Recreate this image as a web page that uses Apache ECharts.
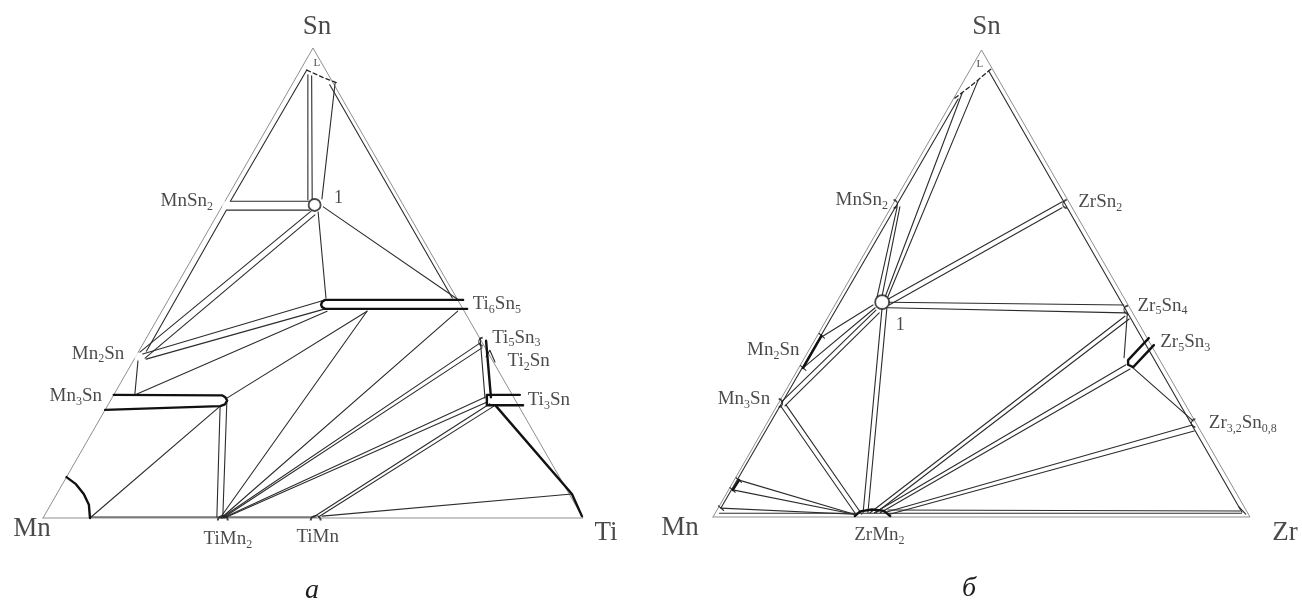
<!DOCTYPE html>
<html>
<head>
<meta charset="utf-8">
<script src="https://cdn.jsdelivr.net/npm/echarts/dist/echarts.min.js"></script>
<style>
  html, body { margin: 0; padding: 0; background: #fff; }
  #chart { width: 1302px; height: 602px; }
</style>
</head>
<body>
<div id="chart"></div>
<script>
// Isothermal sections of the Mn–Sn–Ti (а) and Mn–Sn–Zr (б) systems.
// Every composition is [at.% Sn, at.% Ti] or [at.% Sn, at.% Zr]; the rest is Mn.

// ---------- Mn–Sn–Ti ----------
const tiPhaseNames = ['MnSn2', 'Mn2Sn', 'Mn3Sn', 'Ti6Sn5', 'Ti5Sn3', 'Ti2Sn', 'Ti3Sn', 'TiMn2', 'TiMn'];
const tiPhaseComp  = [[66.6, 0.6], [34.3, 0.5], [25.0, 0], [45.5, 54.5], [37.5, 62.3], [33.2, 67.1], [25.1, 76.0], [0, 33.3], [0, 50.5]];
const tiInvariant  = [66.6, 17.0];
const tiLiquid     = [[95.3, 1.2], [93.8, 4.8], [92.6, 8.1]];
const tiLiquidMark = [96.8, 2.3];
const tiTieLines = [
  [[95.3, 1.2], [67.5, 1.0]],
  [[65.5, 1.2], [35.5, 1.4]],
  [[94.3, 1.9], [67.7, 15.2]],
  [[94.1, 2.7], [67.7, 16.0]],
  [[92.6, 7.8], [67.9, 17.7]],
  [[92.2, 7.0], [46.8, 52.4]],
  [[67.4, 1.0], [67.4, 15.6]],
  [[65.5, 1.3], [65.5, 16.6]],
  [[65.3, 17.0], [35.3, 0.3]],
  [[64.5, 18.1], [34.0, 1.9]],
  [[65.1, 18.4], [46.8, 29.0]],
  [[66.2, 18.8], [46.6, 53.4]],
  [[34.9, 1.0], [46.4, 29.0]],
  [[33.8, 2.2], [44.5, 30.0]],
  [[33.6, 0.8], [26.2, 3.9]],
  [[26.4, 4.2], [44.0, 30.6]],
  [[25.5, 21.3], [44.0, 38.0]],
  [[0, 32.8], [44.0, 38.0]],
  [[0, 33.0], [44.0, 54.8]],
  [[0, 33.0], [37.2, 62.3]],
  [[0, 33.3], [36.2, 63.2]],
  [[0, 33.3], [25.7, 69.0]],
  [[0, 33.6], [24.7, 69.9]],
  [[0.2, 50.0], [24.3, 70.6]],
  [[0.2, 50.9], [23.8, 71.6]],
  [[0.4, 51.5], [5.1, 95.4]],
  [[23.8, 20.9], [0.2, 32.1]],
  [[24.9, 21.6], [0.2, 33.2]],
  [[0, 8.7], [23.6, 20.8]],
  [[38.3, 61.8], [25.5, 69.1]],
  [[34.3, 64.9], [35.7, 64.9], [33.2, 67.1]],
  [[0.2, 8.7], [0.2, 50.5]]
];
const tiBands = [
  [[46.4, 54.6], [46.4, 29.0], [46.0, 28.7], [45.4, 28.8], [44.9, 29.2], [44.5, 30.0], [44.5, 56.3]],
  [[26.2, 0], [26.1, 20.1], [25.7, 20.9], [25.0, 21.6], [24.2, 21.6], [23.8, 20.9], [23.0, 0]],
  [[8.7, 0], [7.2, 2.5], [5.1, 5.0], [2.8, 7.1], [0, 8.7]],
  [[26.2, 75.2], [26.2, 69.1], [24.0, 70.2], [24.0, 76.9]],
  [[23.8, 72.0], [5.1, 95.4], [0.4, 99.6]],
  [[37.7, 63.2], [25.7, 70.1]]
];

// ---------- Mn–Sn–Zr ----------
const zrPhaseNames = ['MnSn2', 'Mn2Sn', 'Mn3Sn', 'ZrSn2', 'Zr5Sn4', 'Zr5Sn3', 'Zr3,2Sn0,8', 'ZrMn2'];
const zrPhaseComp  = [[67.0, 0.5], [35.3, 0.8], [24.4, 0.4], [67.0, 32.0], [44.4, 54.7], [37.5, 62.2], [20.1, 79.4], [1.0, 29.0]];
const zrInvariant  = [46.0, 8.5];
const zrLiquid     = [[89.7, 0.2], [92.7, 2.1], [96.1, 3.9]];
const zrLiquidMark = [97.0, 1.2];
const zrTieLines = [
  [[89.5, 0.9], [2.0, 0.5]],
  [[95.5, 3.6], [1.0, 98.0]],
  [[47.1, 8.5], [90.8, 1.0]],
  [[47.1, 9.0], [93.6, 2.6]],
  [[66.4, 1.1], [47.1, 7.0]],
  [[66.4, 1.6], [47.1, 7.9]],
  [[45.4, 7.1], [38.5, 0.9]],
  [[44.8, 7.8], [32.1, 0.9]],
  [[44.3, 8.2], [24.6, 0.4]],
  [[43.7, 9.1], [23.8, 1.5]],
  [[23.6, 0.9], [0.6, 26.3]],
  [[24.0, 1.6], [0.6, 27.4]],
  [[45.0, 9.0], [0.9, 27.5]],
  [[45.0, 9.9], [0.9, 28.4]],
  [[7.9, 0.9], [0.6, 26.0]],
  [[5.8, 0.8], [0.6, 26.0]],
  [[1.9, 0.5], [0.6, 26.0]],
  [[67.5, 31.3], [46.7, 9.3]],
  [[66.2, 31.9], [45.4, 10.1]],
  [[46.0, 9.6], [45.4, 53.8]],
  [[44.8, 10.2], [43.7, 54.9]],
  [[43.5, 55.4], [34.1, 59.5]],
  [[43.0, 55.2], [0.9, 28.8]],
  [[42.4, 56.3], [0.9, 29.9]],
  [[32.6, 60.6], [0.9, 29.6]],
  [[31.7, 61.8], [0.9, 30.7]],
  [[32.1, 62.0], [20.6, 79.1]],
  [[19.7, 79.4], [0.9, 31.4]],
  [[18.4, 80.4], [0.6, 32.6]],
  [[1.5, 31.8], [1.3, 97.5]],
  [[0.8, 0.8], [0.8, 98.0]],
  [[39.3, 0.1], [38.3, 1.6]],
  [[32.4, 0.1], [31.4, 1.6]],
  [[8.4, 0.1], [7.4, 1.6]],
  [[6.3, 0.0], [5.3, 1.5]],
  [[2.4, -0.2], [1.4, 1.3]],
  [[2.2, 96.8], [0.6, 98.9]]
];
const zrBands = [
  [[38.8, 0.8], [31.9, 0.8]],
  [[7.9, 0.9], [5.8, 0.8]],
  [[38.3, 62.0], [33.6, 60.5], [32.6, 61.0], [32.1, 62.2], [36.8, 63.7]],
  [[0.2, 26.3], [1.2, 26.8], [1.6, 28.8], [1.3, 31.2], [0.2, 32.9]]
];

const triangle = [[0, 0], [100, 0], [0, 100], [0, 0]];
const vertexNamesTi = ['Sn', 'Mn', 'Ti'];
const vertexNamesZr = ['Sn', 'Mn', 'Zr'];
const vertexComp = [[100, 0], [0, 0], [0, 100]];

// ---------- drawing ----------
const SERIF = "'Liberation Serif', 'DejaVu Serif', serif";
const INK = '#1c1c1c';

// ternary composition -> position on an equilateral triangle (base 0..100, height 0..100)
function toXY(c) { return [c[1] + c[0] / 2, c[0]]; }

function formula(name) {
  return name.replace(/(\d+(?:,\d+)?)|([^\d]+)/g, (m, d, t) => d ? `{s|${d}}` : `{b|${t}}`);
}
const rich = {
  b: { fontFamily: SERIF, fontSize: 19, color: INK },
  s: { fontFamily: SERIF, fontSize: 12, color: INK, padding: [11, 0, 0, 0] }
};

const ARC_R = 'path://M0,0 A10,10 0 0 1 0,20';
const ARC_L = 'path://M10,0 A10,10 0 0 0 10,20';
const ARC_U = 'path://M0,10 A10,10 0 0 1 20,10';

const markStyle = { color: 'rgba(0,0,0,0)', borderColor: INK, borderWidth: 1.4 };
const hidden = { color: 'rgba(0,0,0,0)', borderWidth: 0 };

const placeTi = {
  'MnSn2':  { sym: 'emptyCircle', size: 8, pos: 'left', dist: 8, off: [0, -4] },
  'Mn2Sn':  { sym: 'emptyCircle', size: 8, pos: 'left', dist: 9, off: [0, -3] },
  'Mn3Sn':  { sym: null, pos: 'left', dist: 8, off: [0, -4] },
  'Ti6Sn5': { sym: null, pos: 'right', dist: 12, off: [0, 0] },
  'Ti5Sn3': { sym: ARC_L, size: [4, 8], pos: 'right', dist: 9, off: [0, -4] },
  'Ti2Sn':  { sym: null, pos: 'right', dist: 12, off: [0, -1] },
  'Ti3Sn':  { sym: null, pos: 'right', dist: 6, off: [0, 0] },
  'TiMn2':  { sym: ARC_U, size: [10, 5], pos: 'bottom', dist: 7, off: [5, 0] },
  'TiMn':   { sym: ARC_U, size: [10, 5], pos: 'bottom', dist: 7, off: [2, 0] }
};
const placeZr = {
  'MnSn2':      { sym: ARC_R, size: [4, 8], pos: 'left', dist: 5, off: [0, -4] },
  'Mn2Sn':      { sym: null, pos: 'left', dist: 12, off: [0, -2] },
  'Mn3Sn':      { sym: ARC_R, size: [4, 8], pos: 'left', dist: 8, off: [0, -4] },
  'ZrSn2':      { sym: ARC_L, size: [4, 8], pos: 'right', dist: 11, off: [0, -2] },
  'Zr5Sn4':     { sym: ARC_L, size: [4, 8], pos: 'right', dist: 9, off: [0, -4] },
  'Zr5Sn3':     { sym: null, pos: 'right', dist: 12, off: [0, 0] },
  'Zr3,2Sn0,8': { sym: ARC_L, size: [4, 8], pos: 'right', dist: 13, off: [0, 0] },
  'ZrMn2':      { sym: null, pos: 'bottom', dist: 11, off: [8, 0] }
};

const series = [];
function addLines(polys, gi, style, z) {
  polys.forEach(p => series.push({
    type: 'line', xAxisIndex: gi, yAxisIndex: gi, data: p.map(toXY),
    symbol: 'none', silent: true, clip: false, animation: false,
    lineStyle: Object.assign({ cap: 'round', join: 'round' }, style), z: z
  }));
}

function addDiagram(gi, tieLines, bands, liquid, liqMark, names, comps, place, inv, invOff, vNames, vOff) {
  addLines([triangle], gi, { color: '#8f8f8f', width: 1 }, 1);
  addLines(tieLines, gi, { color: '#2c2c2c', width: 1.1 }, 2);
  addLines(bands, gi, { color: '#111', width: 2.4 }, 3);
  addLines([liquid], gi, { color: '#222', width: 1.3, type: [4, 3] }, 3);

  const pts = names.map((n, i) => {
    const p = place[n];
    return {
      value: toXY(comps[i]),
      symbol: p.sym || 'circle',
      symbolSize: p.sym ? p.size : 1,
      itemStyle: p.sym ? markStyle : hidden,
      label: { show: true, position: p.pos, distance: p.dist, offset: p.off, formatter: formula(n), rich: rich }
    };
  });
  // invariant point "1" and the liquid region
  pts.push({
    value: toXY(inv), symbol: 'circle', symbolSize: gi === 0 ? 12 : 14,
    itemStyle: { color: '#fff', borderColor: INK, borderWidth: 1.8 },
    label: { show: true, position: 'inside', offset: invOff, formatter: '1',
             fontFamily: SERIF, fontSize: 18, color: INK }
  });
  pts.push({
    value: toXY(liqMark), symbol: 'circle', symbolSize: 1, itemStyle: hidden,
    label: { show: true, position: 'inside', formatter: 'L', fontFamily: SERIF, fontSize: 11, color: INK }
  });
  vNames.forEach((n, i) => pts.push({
    value: toXY(vertexComp[i]), symbol: 'circle', symbolSize: 1, itemStyle: hidden,
    label: { show: true, position: 'inside', offset: vOff[i], formatter: n,
             fontFamily: SERIF, fontSize: 27, color: INK }
  }));
  series.push({
    type: 'scatter', xAxisIndex: gi, yAxisIndex: gi, data: pts, silent: true,
    animation: false, clip: false, z: 5
  });
}

addDiagram(0, tiTieLines, tiBands, tiLiquid, tiLiquidMark, tiPhaseNames, tiPhaseComp, placeTi,
           tiInvariant, [24, -7], vertexNamesTi, [[4, -21], [-11, 11], [23, 15]]);
addDiagram(1, zrTieLines, zrBands, zrLiquid, zrLiquidMark, zrPhaseNames, zrPhaseComp, placeZr,
           zrInvariant, [18, 23], vertexNamesZr, [[5, -23], [-33, 11], [35, 16]]);

const axis = gi => ({ type: 'value', gridIndex: gi, min: 0, max: 100, show: false });

const chart = echarts.init(document.getElementById('chart'), null, { renderer: 'canvas' });
chart.setOption({
  backgroundColor: '#fff',
  animation: false,
  grid: [
    { left: 43, top: 48, width: 540, height: 470 },
    { left: 713, top: 50, width: 537, height: 467 }
  ],
  xAxis: [axis(0), axis(1)],
  yAxis: [axis(0), axis(1)],
  graphic: [
    { type: 'text', left: 305, top: 577,
      style: { text: 'а', font: 'italic 28px ' + SERIF, fill: INK } },
    { type: 'text', left: 962, top: 575,
      style: { text: 'б', font: 'italic 28px ' + SERIF, fill: INK } }
  ],
  series: series
});
</script>
</body>
</html>
